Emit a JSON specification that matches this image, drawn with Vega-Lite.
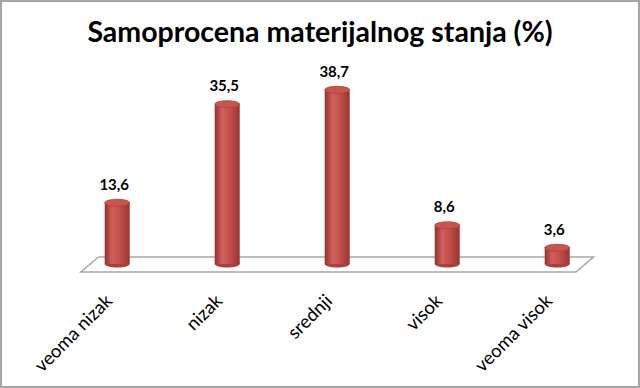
{
  "$schema": "https://vega.github.io/schema/vega-lite/v6.json",
  "width": 638,
  "height": 386,
  "padding": 1,
  "autosize": {"type": "none"},
  "background": "white",
  "config": {
    "view": {"stroke": "#a6a6a6", "strokeWidth": 2},
    "locale": {"number": {"decimal": ",", "thousands": ".", "grouping": [3], "currency": ["", ""]}},
    "font": "Lato"
  },
  "title": {
    "text": "Samoprocena materijalnog stanja (%)",
    "font": "Lato",
    "fontSize": 28.5,
    "fontWeight": "bold",
    "color": "#000000",
    "anchor": "middle",
    "offset": -46
  },
  "datasets": {
    "bars": [
      {"i": 1, "kategorija": "veoma nizak", "procenat": 13.6},
      {"i": 2, "kategorija": "nizak", "procenat": 35.5},
      {"i": 3, "kategorija": "srednji", "procenat": 38.7},
      {"i": 4, "kategorija": "visok", "procenat": 8.6},
      {"i": 5, "kategorija": "veoma visok", "procenat": 3.6}
    ],
    "floor": [
      {"fx": 0.83, "fy": 1.56, "o": 1},
      {"fx": 5.33, "fy": 1.56, "o": 2},
      {"fx": 5.17, "fy": -1.78, "o": 3},
      {"fx": 0.67, "fy": -1.78, "o": 4},
      {"fx": 0.83, "fy": 1.56, "o": 5}
    ]
  },
  "layer": [
    {
      "data": {"name": "floor"},
      "mark": {"type": "line", "color": "#a6a6a6", "strokeWidth": 1.5, "clip": false},
      "encoding": {
        "x": {"field": "fx", "type": "quantitative", "scale": {"domain": [-0.011, 5.698], "nice": false, "zero": false},
          "axis": {"values": [1, 2, 3, 4, 5], "title": null, "grid": false, "ticks": false, "domain": false,
            "labelAngle": -45, "labelFontSize": 18.5, "labelColor": "#000000", "labelFont": "Lato",
            "offset": -100, "labelPadding": 4, "labelOffset": -15, "labelOverlap": false, "labelFlush": false,
            "labelExpr": "['', 'veoma nizak', 'nizak', 'srednji', 'visok', 'veoma visok'][datum.value]"}},
        "y": {"field": "fy", "type": "quantitative", "scale": {"domain": [-27.33, 58.44], "nice": false, "zero": false}, "axis": null},
        "order": {"field": "o"}
      }
    },
    {
      "data": {"name": "bars"},
      "mark": {"type": "point", "filled": true, "opacity": 1, "size": 625,
        "shape": "M-1,0A1,0.28,0,1,0,1,0A1,0.28,0,1,0,-1,0Z", "color": "#a8403c"},
      "encoding": {
        "x": {"field": "i", "type": "quantitative"},
        "y": {"datum": 0, "type": "quantitative"}
      }
    },
    {
      "data": {"name": "bars"},
      "mark": {"type": "bar", "width": 25,
        "fill": {"gradient": "linear", "x1": 0, "y1": 0, "x2": 1, "y2": 0,
          "stops": [
            {"offset": 0, "color": "#93302c"},
            {"offset": 0.3, "color": "#d0605b"},
            {"offset": 0.55, "color": "#c8524d"},
            {"offset": 1, "color": "#9a3430"}
          ]}},
      "encoding": {
        "x": {"field": "i", "type": "quantitative"},
        "y": {"field": "procenat", "type": "quantitative"},
        "y2": {"datum": 0}
      }
    },
    {
      "data": {"name": "bars"},
      "mark": {"type": "point", "filled": true, "opacity": 1, "size": 625,
        "shape": "M-1,0A1,0.28,0,1,0,1,0A1,0.28,0,1,0,-1,0Z", "color": "#c9554f",
        "stroke": "#a8403c", "strokeWidth": 0.8},
      "encoding": {
        "x": {"field": "i", "type": "quantitative"},
        "y": {"field": "procenat", "type": "quantitative"}
      }
    },
    {
      "data": {"name": "bars"},
      "mark": {"type": "text", "font": "Lato", "fontWeight": "bold", "fontSize": 15, "color": "#000000",
        "dy": -18, "dx": -3, "baseline": "middle"},
      "encoding": {
        "x": {"field": "i", "type": "quantitative"},
        "y": {"field": "procenat", "type": "quantitative"},
        "text": {"field": "procenat", "type": "quantitative", "format": ".1f"}
      }
    }
  ]
}
